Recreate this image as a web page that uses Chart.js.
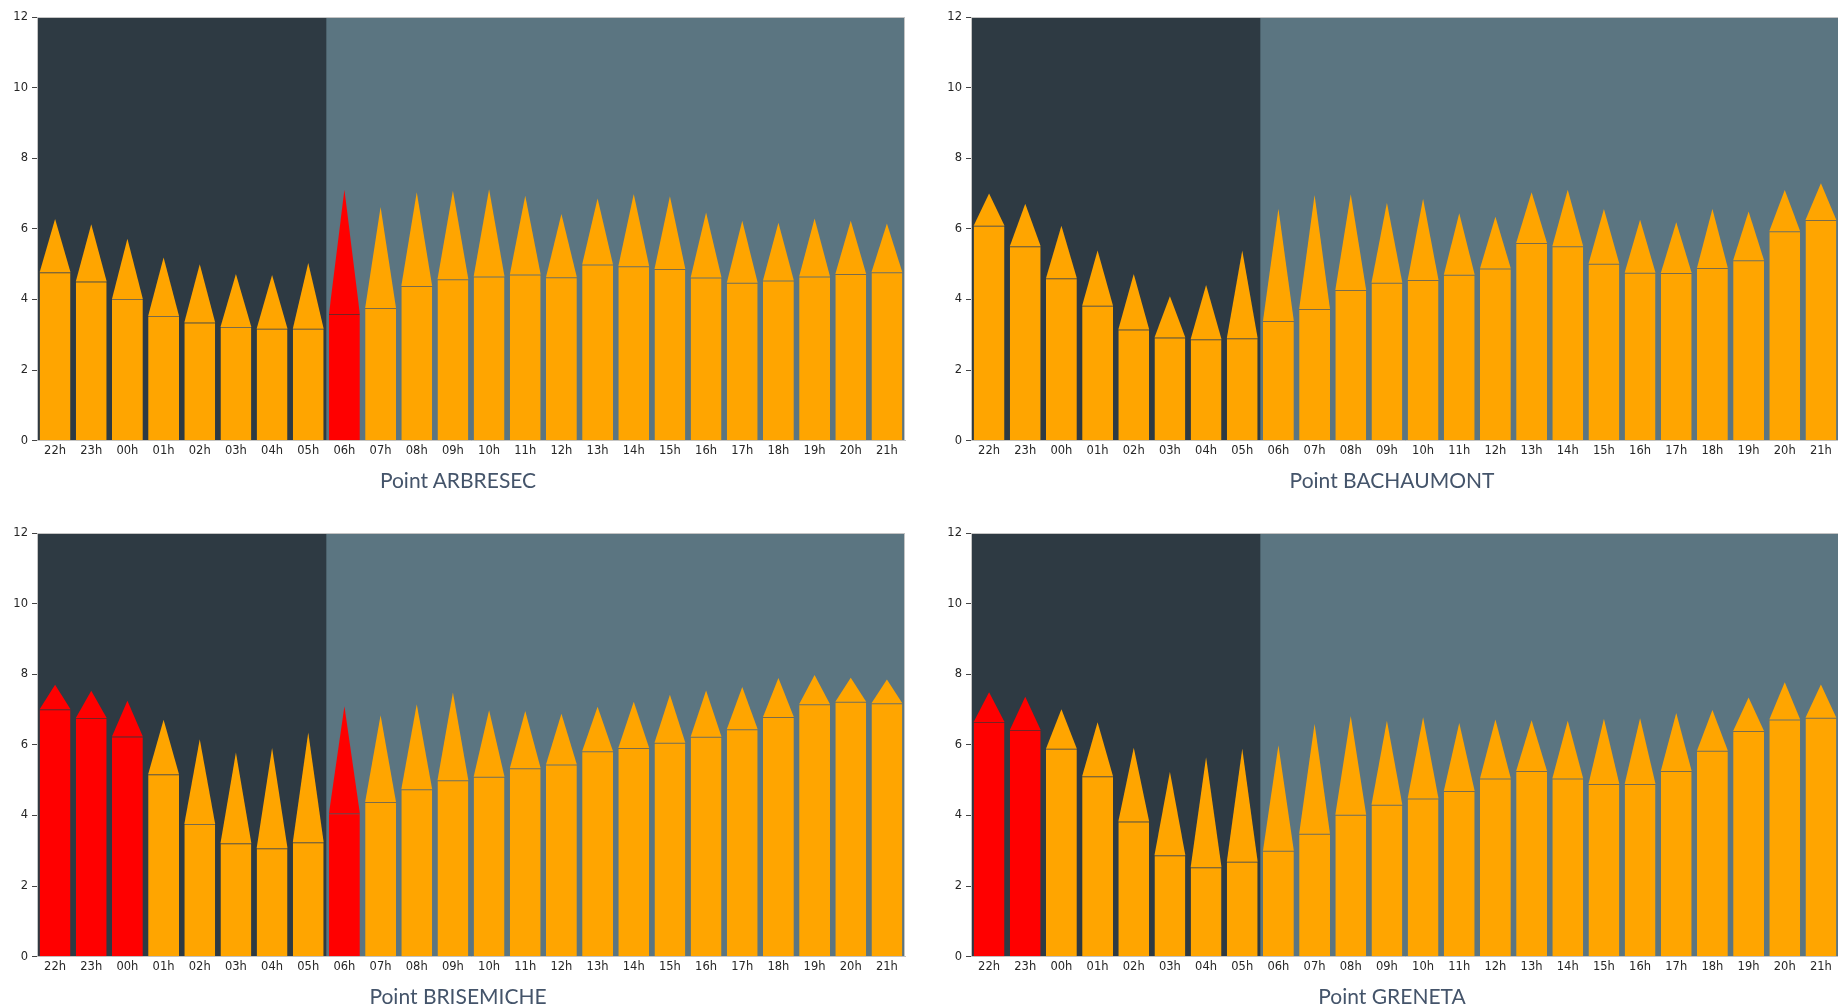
<!DOCTYPE html>
<html>
<head>
<meta charset="utf-8">
<script src="https://cdn.jsdelivr.net/npm/chart.js@4.4.1/dist/chart.umd.min.js"></script>
<style>
  html, body { margin: 0; padding: 0; background: #fff; overflow: hidden; width: 1838px; height: 1008px; }
  .panel { position: absolute; }
  .ptitle { position: absolute; width: 400px; text-align: center; font-family: Lato, "Open Sans", sans-serif; font-size: 21px; line-height: 26px; color: #44546a; white-space: nowrap; }
</style>
</head>
<body>
<script>
// categories
const hours = ['22h','23h','00h','01h','02h','03h','04h','05h','06h','07h','08h','09h','10h','11h','12h','13h','14h','15h','16h','17h','18h','19h','20h','21h'];
const nightHours = ['22h','23h','00h','01h','02h','03h','04h','05h'];
const yTicks = [0, 2, 4, 6, 8, 10, 12];

// Point ARBRESEC
const arbresecBase = [4.77,4.51,4.01,3.53,3.35,3.22,3.17,3.17,3.59,3.76,4.38,4.57,4.65,4.71,4.63,4.99,4.94,4.86,4.62,4.47,4.54,4.65,4.72,4.77];
const arbresecTip  = [6.28,6.13,5.72,5.19,5.00,4.72,4.69,5.03,7.11,6.62,7.04,7.08,7.12,6.94,6.42,6.86,6.99,6.92,6.46,6.23,6.17,6.29,6.23,6.15];
const arbresecAlert = ['06h'];

// Point BACHAUMONT
const bachaumontBase = [6.09,5.51,4.60,3.82,3.15,2.92,2.87,2.90,3.39,3.73,4.27,4.47,4.55,4.70,4.88,5.60,5.51,5.01,4.76,4.75,4.89,5.11,5.93,6.25];
const bachaumontTip  = [7.00,6.71,6.09,5.39,4.72,4.09,4.41,5.39,6.57,6.96,6.98,6.74,6.85,6.44,6.34,7.04,7.11,6.56,6.26,6.19,6.56,6.49,7.10,7.29];
const bachaumontAlert = [];

// Point BRISEMICHE
const brisemicheBase = [7.01,6.76,6.24,5.17,3.76,3.21,3.07,3.24,4.06,4.38,4.74,5.00,5.10,5.34,5.44,5.82,5.91,6.06,6.23,6.44,6.79,7.15,7.22,7.18];
const brisemicheTip  = [7.70,7.53,7.25,6.71,6.16,5.78,5.91,6.35,7.09,6.84,7.15,7.48,6.98,6.96,6.88,7.08,7.22,7.42,7.54,7.64,7.89,7.98,7.90,7.85];
const brisemicheAlert = ['22h','23h','00h','06h'];

// Point GRENETA
const grenetaBase = [6.65,6.42,5.89,5.11,3.83,2.87,2.53,2.69,3.00,3.48,4.02,4.30,4.48,4.69,5.05,5.26,5.05,4.89,4.89,5.26,5.83,6.39,6.72,6.77];
const grenetaTip  = [7.49,7.36,7.01,6.64,5.92,5.24,5.65,5.89,5.99,6.60,6.82,6.68,6.78,6.62,6.72,6.70,6.68,6.74,6.75,6.90,6.99,7.34,7.77,7.71];
const grenetaAlert = ['22h','23h'];

const NIGHT_BG = '#2e3a43';
const DAY_BG = '#5b7581';
const ORANGE = '#ffa500';
const RED = '#ff0000';
const SPINE = '#c4c4c4';

const panels = [
  { name: 'Point ARBRESEC', base: arbresecBase, tip: arbresecTip, alert: arbresecAlert, left: 0, top: 0 },
  { name: 'Point BACHAUMONT', base: bachaumontBase, tip: bachaumontTip, alert: bachaumontAlert, left: 934, top: 0 },
  { name: 'Point BRISEMICHE', base: brisemicheBase, tip: brisemicheTip, alert: brisemicheAlert, left: 0, top: 516 },
  { name: 'Point GRENETA', base: grenetaBase, tip: grenetaTip, alert: grenetaAlert, left: 934, top: 516 }
];

// night / day shading behind the bars
const shading = {
  id: 'shading',
  beforeDraw(chart) {
    const { ctx, chartArea: a, scales: { x } } = chart;
    const labels = chart.data.labels;
    const cw = x.width / labels.length;
    const idx = labels.map((l, i) => nightHours.includes(l) ? i : -1).filter(i => i >= 0);
    ctx.save();
    ctx.fillStyle = DAY_BG;
    ctx.fillRect(a.left, a.top, a.right - a.left, a.bottom - a.top);
    if (idx.length) {
      const x0 = x.getPixelForValue(Math.min(...idx)) - cw / 2;
      const x1 = x.getPixelForValue(Math.max(...idx)) + cw / 2;
      ctx.fillStyle = NIGHT_BG;
      ctx.fillRect(x0, a.top, x1 - x0, a.bottom - a.top);
    }
    ctx.restore();
  },
  afterDraw(chart) {
    const { ctx, chartArea: a } = chart;
    ctx.save();
    ctx.strokeStyle = SPINE;
    ctx.lineWidth = 1;
    ctx.beginPath();
    ctx.moveTo(a.left, a.top + 0.5);
    ctx.lineTo(a.right, a.top + 0.5);
    ctx.moveTo(a.right - 0.5, a.top);
    ctx.lineTo(a.right - 0.5, a.bottom);
    ctx.stroke();
    ctx.restore();
  }
};

// pencil tips on top of every bar
const pencilTips = {
  id: 'pencilTips',
  afterDatasetsDraw(chart, args, opts) {
    const { ctx, scales: { y } } = chart;
    const meta = chart.getDatasetMeta(0);
    ctx.save();
    meta.data.forEach((bar, i) => {
      const half = bar.width / 2;
      const apex = y.getPixelForValue(opts.tips[i]);
      ctx.fillStyle = opts.colors[i];
      ctx.beginPath();
      ctx.moveTo(bar.x - half, bar.y);
      ctx.lineTo(bar.x, apex);
      ctx.lineTo(bar.x + half, bar.y);
      ctx.closePath();
      ctx.fill();
    });
    ctx.restore();
  }
};

panels.forEach(p => {
  const canvas = document.createElement('canvas');
  canvas.className = 'panel';
  canvas.width = 915;
  canvas.height = 470;
  canvas.style.left = p.left + 'px';
  canvas.style.top = p.top + 'px';
  canvas.style.width = '915px';
  canvas.style.height = '470px';
  document.body.appendChild(canvas);

  const title = document.createElement('div');
  title.className = 'ptitle';
  title.textContent = p.name;
  title.style.left = (p.left + 258) + 'px';
  title.style.top = (p.top + 467) + 'px';
  document.body.appendChild(title);

  const colors = hours.map(h => p.alert.includes(h) ? RED : ORANGE);
  const lineColors = hours.map(h => p.alert.includes(h) ? '#7a2222' : '#7a6c4c');

  new Chart(canvas.getContext('2d'), {
    type: 'bar',
    data: {
      labels: hours,
      datasets: [{
        data: p.base,
        backgroundColor: colors,
        borderColor: lineColors,
        borderWidth: { top: 1, left: 0, right: 0, bottom: 0 },
        borderSkipped: false,
        barPercentage: 0.853,
        categoryPercentage: 1
      }]
    },
    options: {
      responsive: false,
      animation: false,
      devicePixelRatio: 1,
      layout: { padding: { top: 17, right: 10, left: 0, bottom: 0 } },
      plugins: {
        legend: { display: false },
        tooltip: { enabled: false },
        pencilTips: { tips: p.tip, colors: colors }
      },
      scales: {
        x: {
          grid: { display: false, drawTicks: false },
          border: { color: SPINE },
          ticks: { color: '#262626', font: { family: 'DejaVu Sans', size: 11.5 }, padding: 3, maxRotation: 0, autoSkip: false },
          afterFit(s) { s.height = 29.3; }
        },
        y: {
          min: 0,
          max: 12,
          afterBuildTicks(s) { s.ticks = yTicks.map(v => ({ value: v })); },
          grid: { drawOnChartArea: false, tickLength: 5, color: '#444' },
          border: { color: SPINE },
          ticks: { color: '#262626', font: { family: 'DejaVu Sans', size: 11.5 }, padding: 4 },
          afterFit(s) { s.width = 37; }
        }
      }
    },
    plugins: [shading, pencilTips]
  });
});
</script>
</body>
</html>
